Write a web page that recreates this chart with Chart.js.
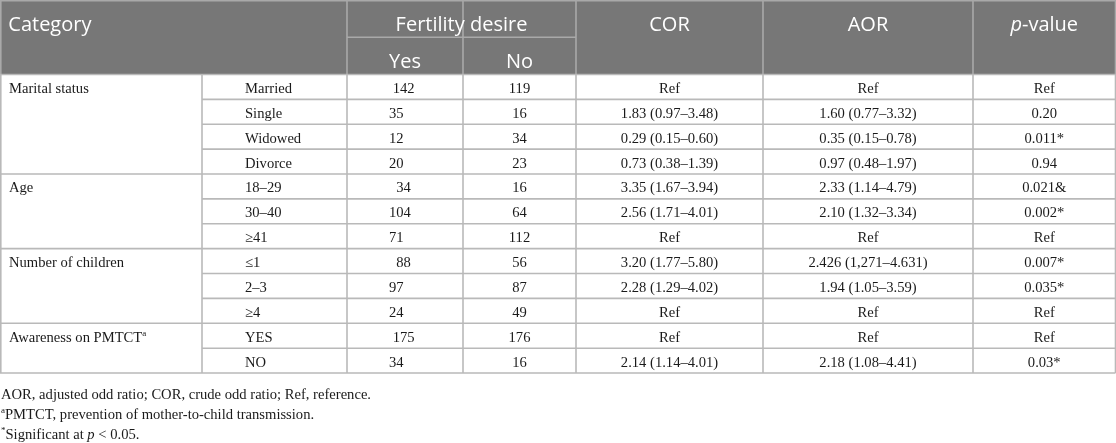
<!DOCTYPE html>
<html>
<head>
<meta charset="utf-8">
<script src="https://cdn.jsdelivr.net/npm/chart.js@4"></script>
<style>
  html, body { margin: 0; padding: 0; background: #ffffff; }
  #wrap { width: 1116px; height: 443px; position: relative; }
</style>
</head>
<body>
<div id="wrap"><canvas id="c"></canvas></div>
<script>
// ---------------- DATA ----------------
const columnHeaders = ["Category", "Fertility desire", "COR", "AOR", "p-value"];
const subHeaders = ["Yes", "No"];
const categories = ["Marital status", "Age", "Number of children", "Awareness on PMTCT"];
const categoryNotes = ["", "", "", "a"];
const groupSizes = [4, 3, 3, 2];
const subcategories = ["Married", "Single", "Widowed", "Divorce", "18–29", "30–40", "≥41", "≤1", "2–3", "≥4", "YES", "NO"];
const yesCounts = [142, 35, 12, 20, 34, 104, 71, 88, 97, 24, 175, 34];
const noCounts = [119, 16, 34, 23, 16, 64, 112, 56, 87, 49, 176, 16];
const corValues = ["Ref", "1.83 (0.97–3.48)", "0.29 (0.15–0.60)", "0.73 (0.38–1.39)", "3.35 (1.67–3.94)", "2.56 (1.71–4.01)", "Ref", "3.20 (1.77–5.80)", "2.28 (1.29–4.02)", "Ref", "Ref", "2.14 (1.14–4.01)"];
const aorValues = ["Ref", "1.60 (0.77–3.32)", "0.35 (0.15–0.78)", "0.97 (0.48–1.97)", "2.33 (1.14–4.79)", "2.10 (1.32–3.34)", "Ref", "2.426 (1,271–4.631)", "1.94 (1.05–3.59)", "Ref", "Ref", "2.18 (1.08–4.41)"];
const pValues = ["Ref", "0.20", "0.011*", "0.94", "0.021&", "0.002*", "Ref", "0.007*", "0.035*", "Ref", "Ref", "0.03*"];
const footnotes = [
  [{t: "AOR, adjusted odd ratio; COR, crude odd ratio; Ref, reference."}],
  [{t: "a", sup: true}, {t: "PMTCT, prevention of mother-to-child transmission."}],
  [{t: "*", sup: true}, {t: "Significant at "}, {t: "p", it: true}, {t: " < 0.05."}]
];

// ---------------- LAYOUT (positions / styles) ----------------
const colEdges = [0, 202, 347, 463, 576, 763, 973, 1115.5];
const yesIndent = [1, 0, 0, 0, 2, 0, 0, 2, 0, 0, 1, 0]; // leading spaces in typeset source
const headerMid = 37.3, headerBottom = 74.5, rowH = 24.88;
const footBase = [398.5, 418.5, 438.5];
const headBg = "#777777", headLine = "#a9a9a9", gridColor = "#b9b9b9", textColor = "#1a1a1a";
const headFont = '20px "Open Sans"';
const headFontIt = 'italic 20px "Open Sans"';
const bodyFont = '14.6px "Liberation Serif"';
const bodyFontIt = 'italic 14.6px "Liberation Serif"';
const supFont = '9px "Liberation Serif"';

function drawParts(ctx, parts, x, y, align, baseFont, itFont) {
  const widths = parts.map(p => {
    ctx.font = p.sup ? supFont : (p.it ? itFont : baseFont);
    return ctx.measureText(p.t).width;
  });
  const total = widths.reduce((a, b) => a + b, 0);
  let cx = align === "center" ? x - total / 2 : x;
  ctx.textAlign = "left";
  parts.forEach((p, i) => {
    ctx.font = p.sup ? supFont : (p.it ? itFont : baseFont);
    ctx.fillText(p.t, cx, p.sup ? y - 6 : y);
    cx += widths[i];
  });
}

const tablePlugin = {
  id: "tablePlugin",
  afterDraw(chart) {
    const ctx = chart.ctx;
    const xs = chart.scales.x, ys = chart.scales.y;
    const X = v => xs.getPixelForValue(v);
    const Y = v => ys.getPixelForValue(v);
    const nRows = subcategories.length;
    const rowTop = i => headerBottom + i * rowH;
    ctx.save();
    // header background
    ctx.fillStyle = headBg;
    ctx.fillRect(X(0), Y(0), X(1116) - X(0), Y(headerBottom) - Y(0));
    // header lines
    ctx.strokeStyle = headLine;
    ctx.lineWidth = 1.6;
    const line = (x1, y1, x2, y2) => { ctx.beginPath(); ctx.moveTo(X(x1), Y(y1)); ctx.lineTo(X(x2), Y(y2)); ctx.stroke(); };
    line(0, 0.8, 1116, 0.8);
    [colEdges[0] + 0.8, colEdges[2], colEdges[3], colEdges[4], colEdges[5], colEdges[6], colEdges[7]].forEach(x => line(x, 0, x, headerBottom));
    line(colEdges[2], headerMid, colEdges[4], headerMid);
    // body grid
    ctx.strokeStyle = gridColor;
    for (let i = 0; i <= nRows; i++) {
      line(colEdges[1], rowTop(i), colEdges[7], rowTop(i));
    }
    let acc = 0;
    line(0, rowTop(0), colEdges[1], rowTop(0));
    groupSizes.forEach(g => { acc += g; line(0, rowTop(acc), colEdges[1], rowTop(acc)); });
    [colEdges[0] + 0.8, colEdges[1], colEdges[2], colEdges[3], colEdges[4], colEdges[5], colEdges[6], colEdges[7]].forEach(x => line(x, headerBottom, x, rowTop(nRows)));

    // header text
    ctx.fillStyle = "#ffffff";
    ctx.textBaseline = "alphabetic";
    ctx.font = headFont;
    ctx.textAlign = "left";
    ctx.fillText(columnHeaders[0], X(8.3), Y(31));
    ctx.textAlign = "center";
    ctx.fillText(columnHeaders[1], X((colEdges[2] + colEdges[4]) / 2), Y(31));
    ctx.fillText(subHeaders[0], X((colEdges[2] + colEdges[3]) / 2), Y(68));
    ctx.fillText(subHeaders[1], X((colEdges[3] + colEdges[4]) / 2), Y(68));
    ctx.fillText(columnHeaders[2], X((colEdges[4] + colEdges[5]) / 2), Y(31));
    ctx.fillText(columnHeaders[3], X((colEdges[5] + colEdges[6]) / 2), Y(31));
    drawParts(ctx, [{t: "p", it: true}, {t: columnHeaders[4].slice(1)}], X((colEdges[6] + colEdges[7]) / 2), Y(31), "center", headFont, headFontIt);

    // body text
    ctx.fillStyle = textColor;
    ctx.font = bodyFont;
    const spaceW = ctx.measureText(" ").width;
    let r = 0;
    categories.forEach((c, gi) => {
      const parts = [{t: c}];
      if (categoryNotes[gi]) parts.push({t: categoryNotes[gi], sup: true});
      drawParts(ctx, parts, X(9), Y(rowTop(r + 1) - 6.5), "left", bodyFont, bodyFontIt);
      r += groupSizes[gi];
    });
    ctx.font = bodyFont;
    for (let i = 0; i < nRows; i++) {
      const yb = Y(rowTop(i + 1) - 6.5);
      ctx.textAlign = "left";
      ctx.fillText(subcategories[i], X(245), yb);
      ctx.fillText(String(yesCounts[i]), X(389) + yesIndent[i] * spaceW, yb);
      ctx.textAlign = "center";
      ctx.fillText(String(noCounts[i]), X((colEdges[3] + colEdges[4]) / 2), yb);
      ctx.fillText(corValues[i], X((colEdges[4] + colEdges[5]) / 2), yb);
      ctx.fillText(aorValues[i], X((colEdges[5] + colEdges[6]) / 2), yb);
      ctx.fillText(pValues[i], X((colEdges[6] + colEdges[7]) / 2), yb);
    }
    // footnotes
    footnotes.forEach((parts, i) => {
      drawParts(ctx, parts, X(1), Y(footBase[i]), "left", bodyFont, bodyFontIt);
    });
    ctx.restore();
  }
};

new Chart(document.getElementById("c"), {
  type: "scatter",
  data: { datasets: [{ data: [], showLine: false }] },
  options: {
    responsive: true,
    maintainAspectRatio: false,
    animation: false,
    layout: { padding: 0 },
    plugins: { legend: { display: false }, tooltip: { enabled: false } },
    scales: {
      x: { type: "linear", min: 0, max: 1116, display: false },
      y: { type: "linear", min: 0, max: 443, reverse: true, display: false }
    }
  },
  plugins: [tablePlugin]
});
</script>
</body>
</html>
